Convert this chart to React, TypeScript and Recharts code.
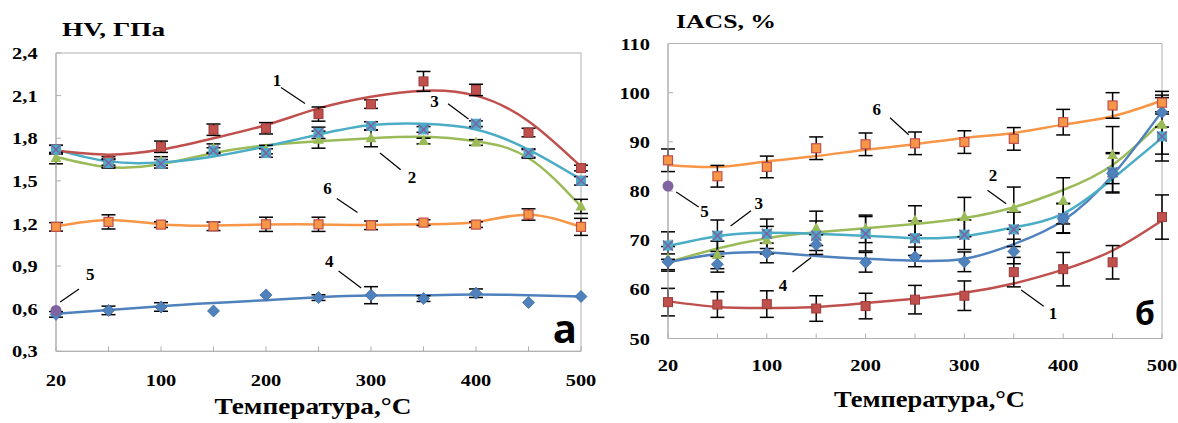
import React from 'react';
import { ComposedChart, Line, XAxis, YAxis, ErrorBar, ReferenceArea, ReferenceDot } from 'recharts';

// ---------- shared categories ----------
const temps = ['20', '50', '100', '150', '200', '250', '300', '350', '400', '450', '500'];
const shownTempLabels = ['20', '100', '200', '300', '400', '500'];

// ---------- panel (а): HV, GPa ----------
const hvTicks = [0.3, 0.6, 0.9, 1.2, 1.5, 1.8, 2.1, 2.4];
const hv1 = [1.72, 1.64, 1.74, 1.86, 1.87, 1.97, 2.04, 2.2, 2.14, 1.84, 1.59];
const hv1Err = [0.03, 0.03, 0.04, 0.04, 0.04, 0.05, 0.03, 0.07, 0.04, 0.03, 0.02];
const hv1Fit = [1.713, 1.684, 1.72, 1.8, 1.893, 2.01, 2.092, 2.135, 2.1, 1.92, 1.6];
const hv2 = [1.66, 1.62, 1.64, 1.73, 1.72, 1.79, 1.8, 1.78, 1.77, 1.69, 1.32];
const hv2Err = [0.04, 0.03, 0.03, 0.03, 0.03, 0.06, 0.06, 0.02, 0.02, 0.03, 0.05];
const hv2Fit = [1.67, 1.597, 1.618, 1.696, 1.75, 1.779, 1.8, 1.81, 1.779, 1.661, 1.32];
const hv3 = [1.72, 1.625, 1.62, 1.713, 1.696, 1.838, 1.886, 1.862, 1.902, 1.696, 1.5];
const hv3Err = [0.03, 0.03, 0.03, 0.02, 0.03, 0.04, 0.03, 0.02, 0.02, 0.03, 0.03];
const hv3Fit = [1.72, 1.637, 1.63, 1.672, 1.743, 1.826, 1.893, 1.902, 1.862, 1.72, 1.51];
const hv4 = [0.56, 0.588, 0.612, 0.584, 0.697, 0.678, 0.695, 0.671, 0.709, 0.643, 0.686];
const hv4Err = [0.02, 0.03, 0.03, 0, 0, 0.02, 0.06, 0.02, 0.03, 0, 0];
const hv4Fit = [0.565, 0.59, 0.618, 0.64, 0.66, 0.68, 0.692, 0.695, 0.7, 0.695, 0.685];
const hv5 = [0.588, null, null, null, null, null, null, null, null, null, null];
const hv6 = [1.176, 1.211, 1.192, 1.18, 1.194, 1.194, 1.187, 1.206, 1.192, 1.263, 1.176];
const hv6Err = [0.03, 0.05, 0.02, 0.03, 0.05, 0.05, 0.03, 0.02, 0.02, 0.04, 0.06];
const hv6Fit = [1.18, 1.225, 1.195, 1.185, 1.192, 1.193, 1.19, 1.195, 1.21, 1.262, 1.175];

// ---------- panel (б): IACS, % ----------
const iaTicks = [50, 60, 70, 80, 90, 100, 110];
const ia1 = [57.4, 56.9, 57.0, 56.1, 56.6, 57.9, 58.7, 63.5, 64.1, 65.5, 74.7];
const ia1Err = [2.8, 2.6, 2.7, 2.6, 2.6, 2.9, 3.0, 3.0, 3.4, 3.4, 4.5];
const ia1Fit = [57.6, 56.4, 56.2, 56.4, 57.2, 58.1, 59.3, 61.2, 64.0, 67.9, 74.0];
const ia2 = [66.2, 67.0, 70.0, 72.4, 72.3, 74.0, 74.7, 76.5, 78.0, 87.3, 93.5];
const ia2Err = [2.5, 2.8, 2.8, 3.5, 2.8, 3.0, 4.0, 4.3, 4.7, 5.8, 6.0];
const ia2Fit = [65.5, 68.3, 70.4, 71.6, 72.4, 73.3, 74.5, 76.7, 80.2, 85.3, 94.2];
const ia3 = [68.9, 70.9, 71.3, 70.9, 71.3, 70.4, 71.1, 72.2, 74.5, 83.8, 91.1];
const ia3Err = [2.8, 3.2, 3.0, 3.0, 3.5, 3.5, 3.0, 3.5, 3.0, 4.0, 5.0];
const ia3Fit = [68.8, 70.8, 71.5, 71.3, 70.9, 70.4, 70.8, 72.6, 75.4, 82.5, 90.8];
const ia4 = [65.6, 65.1, 67.4, 69.1, 65.5, 66.6, 65.6, 67.7, 74.4, 83.6, 96.0];
const ia4Err = [1.6, 1.6, 2.0, 2.0, 2.0, 2.0, 2.0, 2.5, 3.0, 4.0, 3.0];
const ia4Fit = [65.5, 67.2, 67.5, 66.8, 66.2, 65.8, 66.2, 69.2, 74.0, 83.2, 96.2];
const ia5 = [81.0, null, null, null, null, null, null, null, null, null, null];
const ia6 = [86.25, 83.0, 84.9, 88.7, 89.5, 89.7, 89.95, 90.6, 94.0, 97.4, 97.96];
const ia6Err = [2.3, 2.2, 2.2, 2.3, 2.3, 2.3, 2.3, 2.3, 2.6, 2.6, 2.3];
const ia6Fit = [85.3, 84.9, 86.0, 87.1, 88.4, 89.5, 90.8, 91.8, 93.5, 95.2, 98.4];

// ---------- styles ----------
const C = {
  red: '#c0504d', redDark: '#9c3b38',
  green: '#9bbb59', cyan: '#4bacc6', xPurple: '#7e5fa2',
  blue: '#4f81bd', blueDark: '#3d6a9e', purple: '#8064a2',
  orange: '#f79646', axis: '#b0b0b0',
};
const SERIF = '"Liberation Serif", "Times New Roman", serif';
const SANS = '"Open Sans", "Liberation Sans", sans-serif';

const buildRows = (s: any[]) =>
  temps.map((t, i) => {
    const r: any = { t };
    s.forEach(([k, arr]) => { r[k] = arr[i]; });
    return r;
  });

const hvRows = buildRows([
  ['p1', hv1], ['e1', hv1Err], ['f1', hv1Fit],
  ['p2', hv2], ['e2', hv2Err], ['f2', hv2Fit],
  ['p3', hv3], ['e3', hv3Err], ['f3', hv3Fit],
  ['p4', hv4], ['e4', hv4Err], ['f4', hv4Fit],
  ['p5', hv5],
  ['p6', hv6], ['e6', hv6Err], ['f6', hv6Fit],
]);
const iaRows = buildRows([
  ['p1', ia1], ['e1', ia1Err], ['f1', ia1Fit],
  ['p2', ia2], ['e2', ia2Err], ['f2', ia2Fit],
  ['p3', ia3], ['e3', ia3Err], ['f3', ia3Fit],
  ['p4', ia4], ['e4', ia4Err], ['f4', ia4Fit],
  ['p5', ia5],
  ['p6', ia6], ['e6', ia6Err], ['f6', ia6Fit],
]);

// ---------- markers ----------
const marker = (kind: string) => (props: any) => {
  const { cx, cy, index } = props;
  const key = `${kind}-${index}`;
  if (cx == null || cy == null || Number.isNaN(cy)) return <g key={key} />;
  switch (kind) {
    case 'sqRed':
      return <rect key={key} x={cx - 4.5} y={cy - 4.5} width={9} height={9} fill={C.red} stroke={C.redDark} strokeWidth={1} />;
    case 'sqOrange':
      return <rect key={key} x={cx - 4.5} y={cy - 4.5} width={9} height={9} fill={C.orange} stroke={C.red} strokeWidth={1.2} />;
    case 'tri':
      return <polygon key={key} points={`${cx},${cy - 6} ${cx + 5.5},${cy + 4} ${cx - 5.5},${cy + 4}`} fill={C.green} />;
    case 'diamond':
      return <polygon key={key} points={`${cx},${cy - 6} ${cx + 6},${cy} ${cx},${cy + 6} ${cx - 6},${cy}`} fill={C.blue} stroke={C.blueDark} strokeWidth={0.8} />;
    case 'cross':
      return (
        <g key={key}>
          <rect x={cx - 5} y={cy - 5} width={10} height={10} fill={C.cyan} />
          <line x1={cx - 5} y1={cy - 5} x2={cx + 5} y2={cy + 5} stroke={C.xPurple} strokeWidth={1.5} />
          <line x1={cx - 5} y1={cy + 5} x2={cx + 5} y2={cy - 5} stroke={C.xPurple} strokeWidth={1.5} />
        </g>
      );
    case 'circle':
      return <circle key={key} cx={cx} cy={cy} r={5.5} fill={C.purple} />;
    default:
      return <g key={key} />;
  }
};

// ---------- ticks ----------
const XTick = (props: any) => {
  const { x, y, payload } = props;
  const v = String(payload.value);
  if (!shownTempLabels.includes(v)) return <g />;
  return (
    <text x={0} y={0} dy="0.36em" textAnchor="middle" fontFamily={SERIF} fontWeight="bold" fontSize={17} fill="#000"
      transform={`translate(${x},${y}) scale(1.2,1)`}>{v}</text>
  );
};
const YTick = (decimals: number) => (props: any) => {
  const { x, y, payload } = props;
  const v = Number(payload.value).toFixed(decimals).replace('.', ',');
  return (
    <text x={0} y={0} dy="0.36em" textAnchor="end" fontFamily={SERIF} fontWeight="bold" fontSize={17} fill="#000"
      transform={`translate(${x},${y}) scale(1.2,1)`}>{v}</text>
  );
};

// ---------- callouts ----------
const callout = (text: string, l: number[], tp: number[]) => (props: any) => {
  const { cx, cy } = props;
  if (cx == null || cy == null) return <g />;
  return (
    <g>
      <line x1={cx + l[0]} y1={cy + l[1]} x2={cx + l[2]} y2={cy + l[3]} stroke="#000" strokeWidth={1.2} />
      <text x={cx + tp[0]} y={cy + tp[1]} dy="0.36em" textAnchor="middle" fontFamily={SERIF} fontWeight="bold" fontSize={17} fill="#000">{text}</text>
    </g>
  );
};

const fitLine = (key: string, color: string) => (
  <Line key={key} dataKey={key} type="natural" stroke={color} strokeWidth={2.5} dot={false} activeDot={false}
    isAnimationActive={false} connectNulls />
);
const pointSeries = (key: string, errKey: string | null, kind: string) => (
  <Line key={key} dataKey={key} stroke="none" dot={marker(kind)} activeDot={false} isAnimationActive={false}>
    {errKey ? <ErrorBar dataKey={errKey} width={7} strokeWidth={1.5} stroke="#000" direction="y" /> : null}
  </Line>
);

const axisCommon = {
  stroke: C.axis,
  tickLine: { stroke: C.axis },
  tickSize: -5,
};

export default function App() {
  return (
    <div style={{ position: 'absolute', left: 0, top: 0, width: 1178, height: 423, background: '#fff', overflow: 'hidden' }}>
      {/* Panel а */}
      <div style={{ position: 'absolute', left: 0, top: 0 }}>
        <ComposedChart width={600} height={423} data={hvRows} margin={{ top: 53, right: 19, bottom: 0, left: 0 }}>
          <XAxis dataKey="t" type="category" interval={0} height={71.7} tick={<XTick />} tickMargin={33.7} {...axisCommon} />
          <YAxis type="number" domain={[0.3, 2.4]} ticks={hvTicks} width={56} tick={YTick(1)} tickMargin={23.4} interval={0} {...axisCommon} />
          <ReferenceArea x1="20" x2="500" y1={0.3} y2={2.4} fill="none" stroke={C.axis} strokeWidth={1} ifOverflow="visible" />
          {fitLine('f6', C.orange)}
          {fitLine('f4', C.blue)}
          {fitLine('f2', C.green)}
          {fitLine('f3', C.cyan)}
          {fitLine('f1', C.red)}
          {pointSeries('p1', 'e1', 'sqRed')}
          {pointSeries('p2', 'e2', 'tri')}
          {pointSeries('p3', 'e3', 'cross')}
          {pointSeries('p4', 'e4', 'diamond')}
          {pointSeries('p5', null, 'circle')}
          {pointSeries('p6', 'e6', 'sqOrange')}
          <ReferenceDot x="250" y={hv1Fit[5]} r={0} ifOverflow="visible" shape={callout('1', [-37.5, -21, -13.5, -5], [-41.5, -29])} />
          <ReferenceDot x="400" y={hv3Fit[8] + 0.04} r={0} ifOverflow="visible" shape={callout('3', [-28, -20, -7.5, -4.8], [-41.4, -23.3])} />
          <ReferenceDot x="300" y={hv2Fit[6]} r={0} ifOverflow="visible" shape={callout('2', [9, 14.7, 29.7, 31.5], [41, 38.3])} />
          <ReferenceDot x="300" y={hv6Fit[6]} r={0} ifOverflow="visible" shape={callout('6', [-34.2, -26.4, -13.5, -12.3], [-43.6, -36.5])} />
          <ReferenceDot x="300" y={hv4Fit[6]} r={0} ifOverflow="visible" shape={callout('4', [-32.4, -24.6, -9.8, -7.7], [-41.8, -34.7])} />
          <ReferenceDot x="20" y={hv5[0] as number} r={0} ifOverflow="visible" shape={callout('5', [23, -21.3, 4.2, -8.5], [34.3, -36.4])} />
        </ComposedChart>
      </div>

      {/* Panel б */}
      <div style={{ position: 'absolute', left: 600, top: 0 }}>
        <ComposedChart width={578} height={423} data={iaRows} margin={{ top: 43.5, right: 16, bottom: 0, left: 0 }}>
          <XAxis dataKey="t" type="category" interval={0} height={84.5} tick={<XTick />} tickMargin={31.5} {...axisCommon} />
          <YAxis type="number" domain={[50, 110]} ticks={iaTicks} width={68} tick={YTick(0)} tickMargin={23} interval={0} {...axisCommon} />
          <ReferenceArea x1="20" x2="500" y1={50} y2={110} fill="none" stroke={C.axis} strokeWidth={1} ifOverflow="visible" />
          {fitLine('f6', C.orange)}
          {fitLine('f1', C.red)}
          {fitLine('f2', C.green)}
          {fitLine('f4', C.blue)}
          {fitLine('f3', C.cyan)}
          {pointSeries('p1', 'e1', 'sqRed')}
          {pointSeries('p2', 'e2', 'tri')}
          {pointSeries('p3', 'e3', 'cross')}
          {pointSeries('p4', 'e4', 'diamond')}
          {pointSeries('p5', null, 'circle')}
          {pointSeries('p6', 'e6', 'sqOrange')}
          <ReferenceDot x="250" y={ia6Fit[5]} r={0} ifOverflow="visible" shape={callout('6', [-25, -26.5, -6.3, -9.6], [-38.2, -35.9])} />
          <ReferenceDot x="350" y={ia2Fit[7]} r={0} ifOverflow="visible" shape={callout('2', [-26.3, -17, -7.6, -3.5], [-20.8, -32.8])} />
          <ReferenceDot x="20" y={ia5[0] as number} r={0} ifOverflow="visible" shape={callout('5', [8.2, 5.8, 30.7, 20.9], [36.4, 24.3])} />
          <ReferenceDot x="50" y={ia3Fit[1]} r={0} ifOverflow="visible" shape={callout('3', [13.2, -10.3, 33.6, -25.4], [41.3, -33.8])} />
          <ReferenceDot x="150" y={ia4Fit[3]} r={0} ifOverflow="visible" shape={callout('4', [-23.7, 16, -5, 1.6], [-33.1, 28.5])} />
          <ReferenceDot x="350" y={ia1Fit[7]} r={0} ifOverflow="visible" shape={callout('1', [7.4, 6.6, 29.9, 22.8], [39.2, 29.5])} />
        </ComposedChart>
      </div>

      {/* Titles and panel letters */}
      <svg width={1178} height={423} style={{ position: 'absolute', left: 0, top: 0, pointerEvents: 'none' }}>
        <text x={62} y={35.5} fontFamily={SERIF} fontWeight="bold" fontSize={19} textLength={103} lengthAdjust="spacingAndGlyphs">HV, ГПа</text>
        <text x={676} y={28} fontFamily={SERIF} fontWeight="bold" fontSize={19} textLength={100} lengthAdjust="spacingAndGlyphs">IACS, %</text>
        <text x={214.5} y={414} fontFamily={SERIF} fontWeight="bold" fontSize={23} textLength={197} lengthAdjust="spacingAndGlyphs">Температура,°С</text>
        <text x={834} y={407} fontFamily={SERIF} fontWeight="bold" fontSize={23} textLength={191} lengthAdjust="spacingAndGlyphs">Температура,°С</text>
        <text x={577} y={343} textAnchor="end" fontFamily={SANS} fontWeight="bold" fontSize={40}>а</text>
        <text x={1155} y={325} textAnchor="end" fontFamily={SANS} fontWeight="bold" fontSize={32}>б</text>
      </svg>
    </div>
  );
}
